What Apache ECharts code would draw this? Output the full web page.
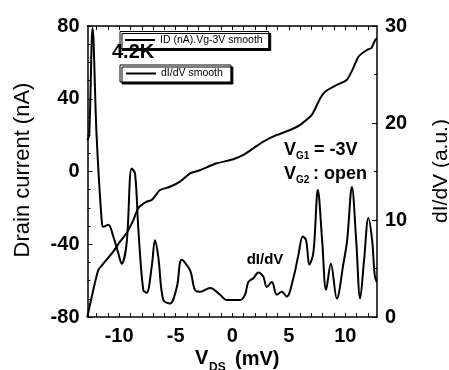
<!DOCTYPE html>
<html>
<head>
<meta charset="utf-8">
<script src="https://cdn.jsdelivr.net/npm/echarts@6/dist/echarts.min.js"></script>
<style>
  html, body { margin: 0; padding: 0; background: #fff; }
  #chart { width: 449px; height: 370px; }
</style>
</head>
<body>
<div id="chart"></div>
<script>
// drain current, I_D (nA) vs V_DS (mV)
const currentV = [-12.82, -12.29, -11.85, -11.26, -10.52, -9.93, -9.34, -8.75, -8.31, -7.57, -7.12, -6.39, -5.5, -4.62, -3.73, -2.85, -2.0, -1.37, 0.1, 0.98, 1.87, 2.75, 3.94, 5.12, 6.0, 7.04, 7.77, 8.21, 9.25, 10.13, 10.6, 11.16, 11.9, 12.3, 12.64, 12.79];
const currentI = [-80, -65.2, -54.2, -49.6, -44.1, -38.6, -33.8, -26.7, -20.1, -16.6, -15.7, -10.2, -8.4, -5.6, -1.0, 0.7, 3.0, 4.5, 6.7, 9.1, 12.8, 16.4, 20.1, 22.8, 25.6, 31.1, 40.2, 43.9, 47.6, 50.3, 55.5, 63.1, 66.8, 67.8, 72.3, 73.2];

// dI/dV (a.u.) vs V_DS (mV)
const didvV = [-12.82, -12.65, -12.35, -12.0, -11.55, -11.4, -10.96, -10.52, -10.08, -9.78, -9.34, -8.9, -8.6, -8.3, -7.87, -7.57, -7.12, -6.83, -6.54, -6.1, -5.5, -4.9, -4.47, -3.73, -3.3, -2.85, -1.96, -1.08, -0.49, 0.69, 1.13, 1.42, 1.87, 2.31, 2.75, 3.05, 3.5, 3.94, 4.38, 4.82, 5.4, 5.85, 6.24, 6.53, 6.82, 7.18, 7.57, 7.95, 8.3, 8.72, 9.25, 9.83, 10.16, 10.58, 10.96, 11.31, 11.66, 12.04, 12.37, 12.6, 12.79];
const didvVal = [18.2, 18.8, 29.8, 18.8, 10.0, 9.3, 9.5, 8.3, 6.6, 5.5, 7.6, 15.3, 14.8, 9.0, 2.8, 2.5, 5.2, 7.9, 6.2, 1.75, 1.4, 3.1, 5.9, 4.8, 2.8, 2.6, 3.0, 2.3, 1.75, 1.75, 2.3, 3.6, 4.0, 4.6, 4.15, 3.1, 3.6, 2.3, 2.6, 2.1, 4.0, 6.4, 8.3, 7.9, 5.4, 6.7, 13.1, 7.9, 2.8, 5.5, 1.9, 5.5, 7.9, 13.4, 7.9, 1.9, 5.9, 10.2, 7.9, 4.3, 3.6];

const xTickLabels = [-10, -5, 0, 5, 10];
const xTickValues = [-12, -11, -10, -9, -8, -7, -6, -5, -4, -3, -2, -1, 0, 1, 2, 3, 4, 5, 6, 7, 8, 9, 10, 11, 12];

const FONT = 'Liberation Sans, Arial, sans-serif';
const chart = echarts.init(document.getElementById('chart'));

const axisLine = { show: true, onZero: false, lineStyle: { color: '#000', width: 1.5 } };
const tickStyle = { color: '#000', width: 1 };
const bigLabel = { color: '#000', fontSize: 20, fontWeight: 'bold', fontFamily: FONT };

const legendBox = {
  orient: 'horizontal',
  selectedMode: false,
  icon: 'rect',
  itemWidth: 30,
  itemHeight: 2,
  itemGap: 4,
  backgroundColor: '#fff',
  borderColor: '#000',
  borderWidth: 1,
  borderRadius: 0,
  shadowColor: '#000',
  shadowBlur: 0,
  shadowOffsetX: 2,
  shadowOffsetY: 2,
  textStyle: { color: '#000', fontSize: 10.5, fontFamily: FONT }
};

const option = {
  animation: false,
  backgroundColor: '#fff',
  grid: { left: 87.5, top: 26, width: 289.5, height: 291 },
  legend: [
    Object.assign({}, legendBox, { left: 120, top: 31.5, padding: [3, 6, 3, 5], data: ['ID (nA).Vg-3V smooth'] }),
    Object.assign({}, legendBox, { left: 120, top: 65, padding: [3, 8, 3, 6], data: ['dI/dV smooth'] })
  ],
  xAxis: [
    {
      type: 'value',
      min: -12.8,
      max: 12.8,
      position: 'bottom',
      axisLine: axisLine,
      splitLine: { show: false },
      axisTick: { inside: true, length: 4, lineStyle: tickStyle, customValues: xTickValues },
      axisLabel: Object.assign({ margin: 9, customValues: xTickLabels }, bigLabel)
    },
    {
      type: 'value',
      min: -12.8,
      max: 12.8,
      position: 'top',
      axisLine: axisLine,
      splitLine: { show: false },
      axisTick: { inside: true, length: 4, lineStyle: tickStyle, customValues: xTickValues },
      axisLabel: { show: false }
    }
  ],
  yAxis: [
    {
      type: 'value',
      min: -80,
      max: 80,
      interval: 40,
      position: 'left',
      axisLine: axisLine,
      splitLine: { show: false },
      axisTick: { inside: true, length: 5, lineStyle: tickStyle },
      minorTick: { show: true, splitNumber: 4, length: 3, lineStyle: tickStyle },
      axisLabel: Object.assign({ margin: 8 }, bigLabel)
    },
    {
      type: 'value',
      min: 0,
      max: 30,
      interval: 10,
      position: 'right',
      axisLine: axisLine,
      splitLine: { show: false },
      axisTick: { inside: true, length: 5, lineStyle: tickStyle },
      minorTick: { show: true, splitNumber: 2, length: 3, lineStyle: tickStyle },
      axisLabel: Object.assign({ margin: 8 }, bigLabel)
    }
  ],
  series: [
    {
      name: 'ID (nA).Vg-3V smooth',
      type: 'line',
      yAxisIndex: 0,
      data: currentV.map((v, i) => [v, currentI[i]]),
      smooth: 0.15,
      symbol: 'none',
      itemStyle: { color: '#000' },
      lineStyle: { color: '#000', width: 2 }
    },
    {
      name: 'dI/dV smooth',
      type: 'line',
      yAxisIndex: 1,
      data: didvV.map((v, i) => [v, didvVal[i]]),
      smooth: 0.35,
      symbol: 'none',
      itemStyle: { color: '#000' },
      lineStyle: { color: '#000', width: 2 }
    }
  ],
  graphic: [
    // axis titles
    { type: 'text', x: 22.5, y: 170, rotation: Math.PI / 2, z: 10,
      style: { text: 'Drain current (nA)', font: '22px ' + FONT, fill: '#000', textAlign: 'center', textVerticalAlign: 'middle' } },
    { type: 'text', x: 441, y: 171, rotation: Math.PI / 2, z: 10,
      style: { text: 'dI/dV (a.u.)', font: '21px ' + FONT, fill: '#000', textAlign: 'center', textVerticalAlign: 'middle' } },
    { type: 'text', x: 195, y: 358.5, z: 10,
      style: { text: 'V', font: 'bold 20px ' + FONT, fill: '#000', textVerticalAlign: 'middle' } },
    { type: 'text', x: 209, y: 368, z: 10,
      style: { text: 'DS', font: 'bold 12px ' + FONT, fill: '#000', textVerticalAlign: 'middle' } },
    { type: 'text', x: 235, y: 359, z: 10,
      style: { text: '(mV)', font: 'bold 20px ' + FONT, fill: '#000', textVerticalAlign: 'middle' } },
    // annotations
    { type: 'text', x: 112, y: 52.5, z: 20,
      style: { text: '4.2K', font: 'bold 20px ' + FONT, fill: '#000', textVerticalAlign: 'middle' } },
    { type: 'text', x: 284, y: 150, z: 10,
      style: { text: 'V', font: 'bold 18px ' + FONT, fill: '#000', textVerticalAlign: 'middle' } },
    { type: 'text', x: 296, y: 156, z: 10,
      style: { text: 'G1', font: 'bold 10px ' + FONT, fill: '#000', textVerticalAlign: 'middle' } },
    { type: 'text', x: 314, y: 150, z: 10,
      style: { text: '= -3V', font: 'bold 18px ' + FONT, fill: '#000', textVerticalAlign: 'middle' } },
    { type: 'text', x: 284, y: 174.5, z: 10,
      style: { text: 'V', font: 'bold 18px ' + FONT, fill: '#000', textVerticalAlign: 'middle' } },
    { type: 'text', x: 296, y: 180.5, z: 10,
      style: { text: 'G2', font: 'bold 10px ' + FONT, fill: '#000', textVerticalAlign: 'middle' } },
    { type: 'text', x: 313, y: 174.5, z: 10,
      style: { text: ': open', font: 'bold 18px ' + FONT, fill: '#000', textVerticalAlign: 'middle' } },
    { type: 'text', x: 265, y: 260, z: 10,
      style: { text: 'dI/dV', font: 'bold 15px ' + FONT, fill: '#000', textAlign: 'center', textVerticalAlign: 'middle' } }
  ]
};

chart.setOption(option);
</script>
</body>
</html>
